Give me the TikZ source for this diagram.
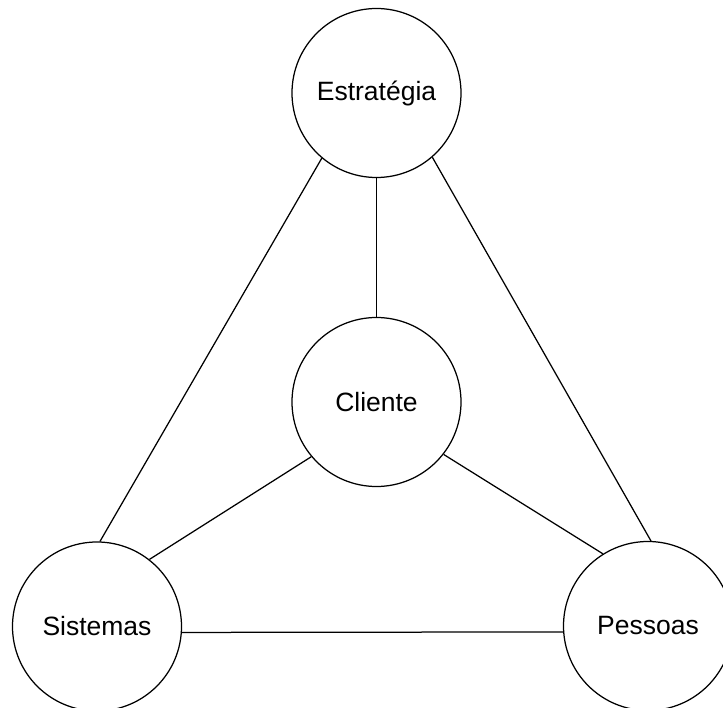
\documentclass[tikz,border=0pt]{standalone}
\usepackage{fontspec}
\setmainfont{Liberation Sans}
\begin{document}
\begin{tikzpicture}[x=1pt,y=-1pt,
  bubble/.style={draw=black,circle,line width=1.25pt,minimum size=169pt,inner sep=0pt,font=\fontsize{26.5}{31}\selectfont,fill=white},
  link/.style={draw=black,line width=1.25pt}]
\clip (0,0) rectangle (723,708);
\fill[white] (0,0) rectangle (723,708);
\node[bubble] (E) at (376.5,93) {Estratégia};
\node[bubble] (C) at (376.5,402) {Cliente\hspace{15pt}};
\node[bubble] (S) at (97,626.5) {Sistemas};
\node[bubble] (P) at (648,626) {Pessoas};
\draw[link] (E.south) -- (C.north);
\draw[link] (E.-130) -- (S.88);
\draw[link] (E.-49.5) -- (P.88);
\draw[link] (C.220.5) -- (S.52);
\draw[link] (C.-38.6) -- (P.122);
\draw[link] (S.-4.4) -- (P.184.4);
\end{tikzpicture}
\end{document}
